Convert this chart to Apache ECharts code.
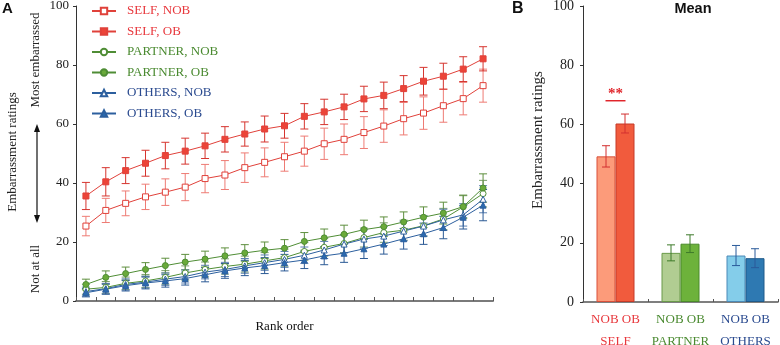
<!DOCTYPE html>
<html>
<head>
<meta charset="utf-8">
<script src="https://cdn.jsdelivr.net/npm/echarts@6/dist/echarts.min.js"></script>
<style>
html,body{margin:0;padding:0;background:#fff;}
#main{width:780px;height:345px;}
</style>
</head>
<body>
<div id="main"></div>
<script>
// rank order 1..21
var rank = ['1','2','3','4','5','6','7','8','9','10','11','12','13','14','15','16','17','18','19','20','21'];

var selfNob = [25.4, 30.7, 33.1, 35.3, 36.9, 38.6, 41.5, 42.7, 45.2, 47.0, 48.9, 50.8, 53.3, 54.8, 57.1, 59.3, 61.8, 63.7, 66.2, 68.6, 73.0];
var selfNobErr = [3.3, 4.1, 4.2, 4.3, 4.5, 4.6, 4.8, 4.9, 5.0, 4.9, 4.9, 5.1, 5.3, 5.2, 5.4, 5.5, 5.5, 5.5, 5.6, 5.5, 5.6];
var selfOb = [35.6, 40.4, 44.2, 46.7, 49.3, 50.8, 52.6, 54.8, 56.6, 58.3, 59.4, 62.6, 64.1, 65.8, 68.5, 69.7, 72.0, 74.5, 76.2, 78.6, 82.1];
var selfObErr = [4.6, 4.8, 4.4, 4.4, 4.5, 4.4, 4.3, 4.3, 4.1, 4.4, 4.2, 4.3, 4.3, 4.3, 4.3, 4.5, 4.4, 4.7, 4.4, 4.2, 4.1];
var partnerNob = [4.0, 4.6, 6.0, 6.8, 8.0, 9.5, 10.7, 11.7, 12.5, 13.6, 14.7, 16.8, 18.2, 19.5, 21.5, 23.2, 24.0, 25.5, 27.8, 31.9, 36.4];
var partnerNobErr = [1.7, 2.0, 2.1, 2.2, 2.3, 2.4, 2.5, 2.6, 2.7, 2.8, 2.9, 3.0, 3.0, 3.1, 3.2, 3.3, 3.4, 3.5, 3.6, 3.8, 4.5];
var partnerOb = [5.6, 8.0, 9.3, 10.7, 12.0, 13.2, 14.2, 15.3, 16.3, 17.2, 17.9, 20.2, 21.4, 22.6, 24.2, 25.2, 26.8, 28.4, 29.8, 32.0, 38.3];
var partnerObErr = [1.8, 2.2, 2.2, 2.3, 2.5, 2.6, 2.7, 2.7, 2.8, 2.8, 2.9, 3.0, 3.0, 3.1, 3.2, 3.3, 3.4, 3.5, 3.7, 3.9, 4.8];
var othersNob = [3.2, 4.2, 5.6, 6.4, 7.4, 8.3, 9.8, 10.7, 11.9, 13.0, 14.1, 15.5, 17.3, 19.3, 21.0, 22.0, 23.7, 25.4, 27.5, 29.2, 34.5];
var othersNobErr = [1.5, 1.8, 1.9, 2.0, 2.1, 2.2, 2.3, 2.4, 2.5, 2.6, 2.7, 2.8, 2.9, 3.0, 3.1, 3.2, 3.3, 3.4, 3.6, 3.8, 4.6];
var othersOb = [2.8, 4.0, 5.2, 6.1, 6.8, 7.6, 8.9, 10.2, 11.2, 12.0, 13.0, 13.9, 15.3, 16.2, 17.7, 19.3, 21.1, 22.8, 24.9, 28.4, 32.5];
var othersObErr = [1.4, 1.7, 1.8, 2.0, 2.1, 2.2, 2.4, 2.5, 2.6, 2.7, 2.8, 2.9, 3.0, 3.1, 3.3, 3.4, 3.5, 3.6, 3.8, 4.0, 5.3];

// panel B means
var groups = ['SELF', 'PARTNER', 'OTHERS'];
var meanNob = [49.2, 16.6, 15.7];
var meanNobErr = [3.6, 2.7, 3.4];
var meanOb = [60.3, 19.7, 14.8];
var meanObErr = [3.2, 3.0, 3.2];
var sigCat = [0];
var sigY = [68];

var yTicks = [0, 20, 40, 60, 80, 100];

var serif = '"Liberation Serif", "DejaVu Serif", serif';
var sans = '"Liberation Sans", Arial, sans-serif';
var red = '#e0413a', green = '#4f8d35', blue = '#2c5f9e';
var groupColor = {SELF: '#e8383d', PARTNER: '#4a8a30', OTHERS: '#2a4a8f'};

function triples(vals, errs) {
	var out = [];
	for (var i = 0; i < vals.length; i++) out.push([i, vals[i], errs[i]]);
	return out;
}

// error bar: vertical line + caps
function errBar(offset, cap) {
	return function (params, api) {
		var i = api.value(0), v = api.value(1), e = api.value(2);
		var hi = api.coord([i, v + e]);
		var lo = api.coord([i, v - e]);
		var x = hi[0] + offset;
		var st = {stroke: api.visual('color'), lineWidth: 1};
		return {
			type: 'group',
			children: [
				{type: 'line', shape: {x1: x, y1: hi[1], x2: x, y2: lo[1]}, style: st},
				{type: 'line', shape: {x1: x - cap, y1: hi[1], x2: x + cap, y2: hi[1]}, style: st},
				{type: 'line', shape: {x1: x - cap, y1: lo[1], x2: x + cap, y2: lo[1]}, style: st}
			]
		};
	};
}

function errSeries(vals, errs, color, grid, offset, cap) {
	return {
		type: 'custom',
		xAxisIndex: grid, yAxisIndex: grid,
		renderItem: errBar(offset, cap),
		itemStyle: {color: color},
		data: triples(vals, errs),
		z: 1,
		silent: true
	};
}

function lineSeries(name, vals, sym, color, fill) {
	return {
		name: name,
		type: 'line',
		xAxisIndex: 0, yAxisIndex: 0,
		data: vals,
		symbol: sym,
		symbolSize: 6,
		showAllSymbol: true,
		lineStyle: {color: color, width: 1, type: 'solid'},
		itemStyle: {color: fill, borderColor: color, borderWidth: 1},
		z: 3
	};
}

var dom = document.getElementById('main');
var myChart = echarts.init(dom);

var barColors = {
	nob: [['#fc9b7a', '#d9503a'], ['#b1cd92', '#6a9a4a'], ['#84cdea', '#4a8ab8']],
	ob: [['#f15b3d', '#c53a28'], ['#6db23b', '#4a8a2a'], ['#2e79b2', '#1f5a8a']]
};
function barData(vals, key) {
	return vals.map(function (v, i) {
		return {value: v, itemStyle: {color: barColors[key][i][0], borderColor: barColors[key][i][1], borderWidth: 1}};
	});
}
var barErrColors = ['#d33030', '#3d7a2a', '#2a5a9a'];

var option = {
	animation: false,
	grid: [
		{left: 76, right: 287, top: 6, bottom: 44, outerBoundsMode: 'none', containLabel: false},
		{left: 583, right: 2, top: 6, bottom: 43, outerBoundsMode: 'none', containLabel: false}
	],
	legend: {
		orient: 'vertical',
		left: 91,
		top: 4,
		padding: 0,
		itemWidth: 24,
		itemHeight: 8,
		itemGap: 6.5,
		textStyle: {fontFamily: serif, fontSize: 13, lineHeight: 14, padding: [0, 0, 0, 6]},
		data: [
			{name: 'SELF, NOB', textStyle: {color: groupColor.SELF}},
			{name: 'SELF, OB', textStyle: {color: groupColor.SELF}},
			{name: 'PARTNER, NOB', textStyle: {color: groupColor.PARTNER}},
			{name: 'PARTNER, OB', textStyle: {color: groupColor.PARTNER}},
			{name: 'OTHERS, NOB', textStyle: {color: groupColor.OTHERS}},
			{name: 'OTHERS, OB', textStyle: {color: groupColor.OTHERS}}
		]
	},
	xAxis: [
		{
			gridIndex: 0, type: 'category', data: rank, boundaryGap: true,
			name: 'Rank order', nameLocation: 'middle', nameGap: 19,
			nameTextStyle: {fontFamily: serif, fontSize: 13, color: '#111'},
			axisLine: {lineStyle: {color: '#7a7a7a', width: 2}},
			axisTick: {show: true, inside: true, length: 4, interval: 0, lineStyle: {color: '#555'}},
			axisLabel: {show: false},
			splitLine: {show: false}
		},
		{
			gridIndex: 1, type: 'category', data: groups, boundaryGap: true,
			axisLine: {lineStyle: {color: '#555', width: 1.5}},
			axisTick: {show: true, inside: true, length: 3, interval: 0, lineStyle: {color: '#555'}},
			axisLabel: {
				interval: 0, margin: 7, fontFamily: serif, fontSize: 13, lineHeight: 22,
				formatter: function (v) { return 'NOB OB\n' + v; },
				color: function (v) { return groupColor[v]; }
			}
		}
	],
	yAxis: [
		{
			gridIndex: 0, type: 'value', min: yTicks[0], max: yTicks[yTicks.length - 1], interval: 20,
			axisLine: {show: true, lineStyle: {color: '#333', width: 1}},
			axisTick: {show: true, length: 3, lineStyle: {color: '#333'}},
			axisLabel: {fontFamily: serif, fontSize: 13, color: '#222', margin: 7},
			splitLine: {show: false}
		},
		{
			gridIndex: 1, type: 'value', min: yTicks[0], max: yTicks[yTicks.length - 1], interval: 20,
			axisLine: {show: true, lineStyle: {color: '#333', width: 1}},
			axisTick: {show: true, length: 3, lineStyle: {color: '#333'}},
			axisLabel: {fontFamily: serif, fontSize: 14, color: '#222', margin: 9},
			splitLine: {show: false}
		}
	],
	graphic: [
		{type: 'text', left: 2, top: 1, style: {text: 'A', font: 'bold 15px ' + sans, fill: '#111'}},
		{type: 'text', left: 512, top: 1, style: {text: 'B', font: 'bold 16px ' + sans, fill: '#111'}},
		{type: 'text', x: 693, y: 9, style: {text: 'Mean', font: 'bold 14.5px ' + sans, fill: '#111', align: 'center', verticalAlign: 'middle', textAlign: 'center', textVerticalAlign: 'middle'}},
		{type: 'text', x: 13, y: 152, rotation: Math.PI / 2, style: {text: 'Embarrassment ratings', font: '13px ' + serif, fill: '#222', align: 'center', verticalAlign: 'middle', textAlign: 'center', textVerticalAlign: 'middle'}},
		{type: 'text', x: 36, y: 60, rotation: Math.PI / 2, style: {text: 'Most embarrassed', font: '13px ' + serif, fill: '#222', align: 'center', verticalAlign: 'middle', textAlign: 'center', textVerticalAlign: 'middle'}},
		{type: 'text', x: 36, y: 269, rotation: Math.PI / 2, style: {text: 'Not at all', font: '13px ' + serif, fill: '#222', align: 'center', verticalAlign: 'middle', textAlign: 'center', textVerticalAlign: 'middle'}},
		{type: 'text', x: 538, y: 140, rotation: Math.PI / 2, style: {text: 'Embarrassment ratings', font: '15px ' + serif, fill: '#222', align: 'center', verticalAlign: 'middle', textAlign: 'center', textVerticalAlign: 'middle'}},
		// double arrow
		{type: 'line', shape: {x1: 37, y1: 128, x2: 37, y2: 219}, style: {stroke: '#111', lineWidth: 1.2}},
		{type: 'polygon', shape: {points: [[37, 124], [34, 132], [40, 132]]}, style: {fill: '#111'}},
		{type: 'polygon', shape: {points: [[37, 223], [34, 215], [40, 215]]}, style: {fill: '#111'}}
	],
	series: [
		errSeries(selfNob, selfNobErr, '#ee7b74', 0, 0, 4),
		errSeries(selfOb, selfObErr, '#d6352f', 0, 0, 4),
		errSeries(partnerNob, partnerNobErr, '#7a9e6a', 0, 0, 4),
		errSeries(partnerOb, partnerObErr, '#5e8f3e', 0, 0, 4),
		errSeries(othersNob, othersNobErr, '#5a7fb0', 0, 0, 4),
		errSeries(othersOb, othersObErr, '#2b5a95', 0, 0, 4),
		lineSeries('SELF, NOB', selfNob, 'rect', red, '#fff'),
		lineSeries('SELF, OB', selfOb, 'rect', red, '#ec4438'),
		lineSeries('PARTNER, NOB', partnerNob, 'circle', green, '#fff'),
		lineSeries('PARTNER, OB', partnerOb, 'circle', green, '#6aaa3a'),
		lineSeries('OTHERS, NOB', othersNob, 'triangle', blue, '#fff'),
		lineSeries('OTHERS, OB', othersOb, 'triangle', blue, '#2a6ab0'),
		{
			name: 'NOB', type: 'bar', xAxisIndex: 1, yAxisIndex: 1,
			barWidth: 19, barGap: '0%', data: barData(meanNob, 'nob'), z: 2
		},
		{
			name: 'OB', type: 'bar', xAxisIndex: 1, yAxisIndex: 1,
			barWidth: 19, barGap: '0%', data: barData(meanOb, 'ob'), z: 2
		},
		{
			type: 'custom', xAxisIndex: 1, yAxisIndex: 1, z: 3, silent: true,
			data: triples(meanNob, meanNobErr),
			renderItem: function (params, api) {
				var g = errBar(-9.5, 4)(params, api);
				g.children.forEach(function (c) { c.style.stroke = barErrColors[api.value(0)]; });
				return g;
			}
		},
		{
			type: 'custom', xAxisIndex: 1, yAxisIndex: 1, z: 3, silent: true,
			data: triples(meanOb, meanObErr),
			renderItem: function (params, api) {
				var g = errBar(9.5, 4)(params, api);
				g.children.forEach(function (c) { c.style.stroke = barErrColors[api.value(0)]; });
				return g;
			}
		},
		{
			// significance bracket
			type: 'custom', xAxisIndex: 1, yAxisIndex: 1, z: 3, silent: true,
			data: sigCat.map(function (c, i) { return [c, sigY[i]]; }),
			renderItem: function (params, api) {
				var p = api.coord([api.value(0), api.value(1)]);
				return {
					type: 'group',
					children: [
						{type: 'line', shape: {x1: p[0] - 10, y1: p[1], x2: p[0] + 10, y2: p[1]}, style: {stroke: '#e0252b', lineWidth: 1.5}},
						{type: 'text', x: p[0], y: p[1] + 1, style: {text: '**', font: 'bold 15px ' + serif, fill: '#e0252b', align: 'center', verticalAlign: 'bottom', textAlign: 'center', textVerticalAlign: 'bottom'}}
					]
				};
			}
		}
	]
};

window.addEventListener('resize', function () {
	myChart.resize();
});

if (option && typeof option === 'object') {
	myChart.setOption(option, true);
}
</script>
</body>
</html>
